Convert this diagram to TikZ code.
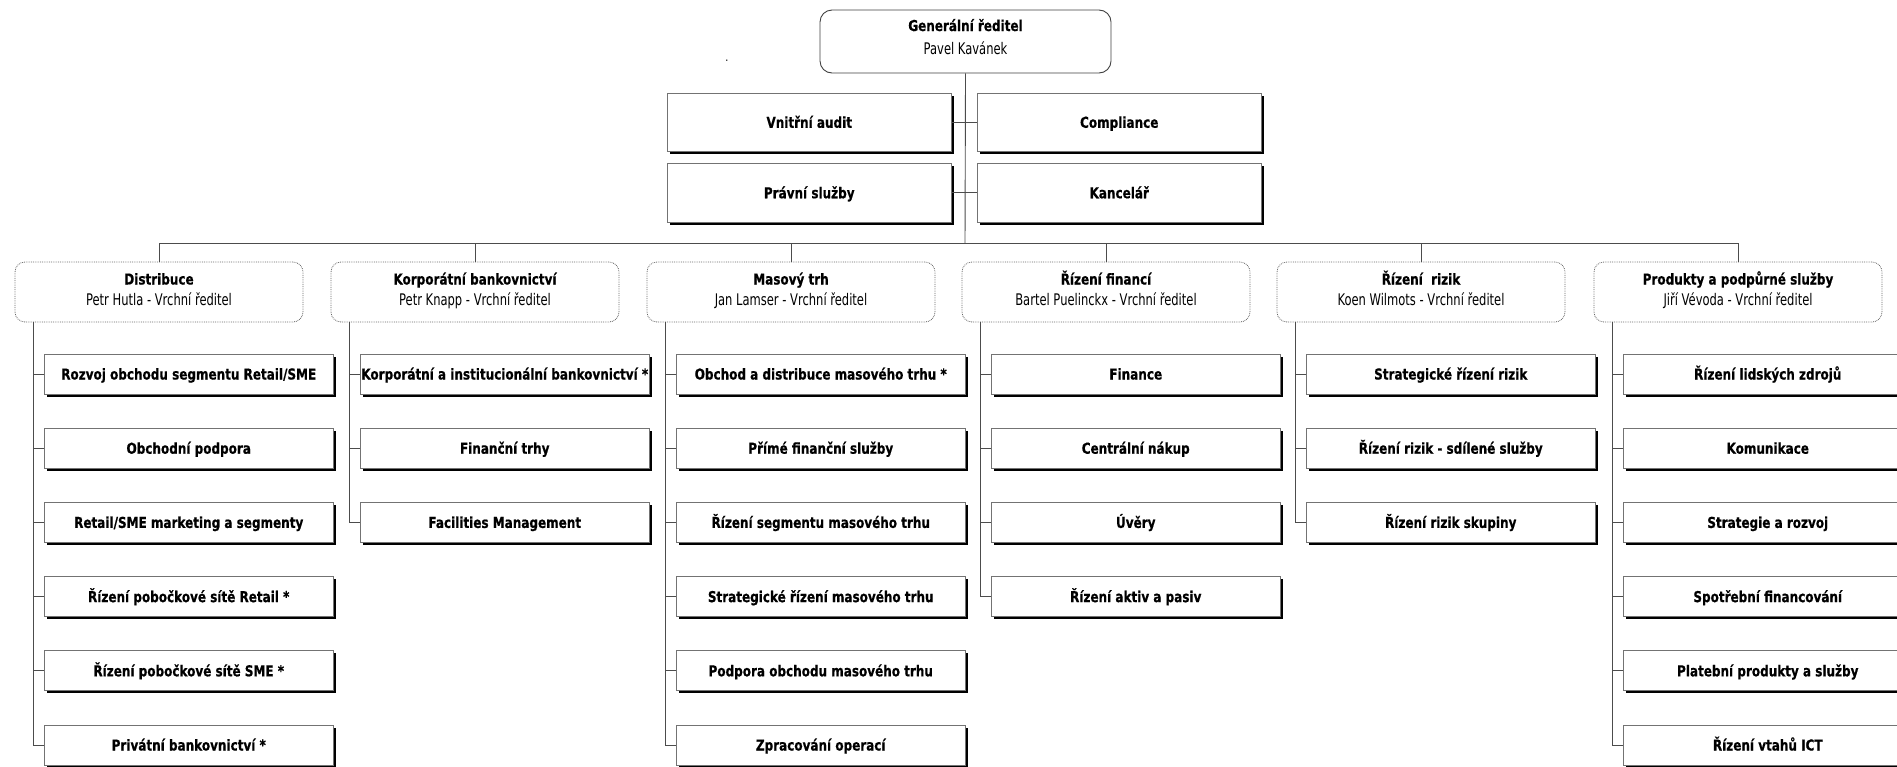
\documentclass[tikz,border=0pt]{standalone}
\usepackage{fontspec}
\newfontfamily\tb[FakeStretch=0.80,BoldFeatures={FakeBold=0.6}]{DejaVu Sans}
\newfontfamily\tr[FakeStretch=0.72]{DejaVu Sans}
\newcommand\topstrut{\rule{0pt}{15pt}}
\newcommand\divdepth{\rule[-9pt]{0pt}{9pt}}
\newcommand\ceodepth{\rule[-12.5pt]{0pt}{12.5pt}}
\begin{document}
\begin{tikzpicture}[x=1pt,y=-1pt,
  conn/.style={draw=black!70, line width=0.9pt},
  ceobox/.style={draw=black!75, line width=0.9pt, rounded corners=12pt, fill=white,
    minimum width=291pt, minimum height=63pt, inner sep=0pt, align=center,
    font=\fontsize{15}{23.5}\selectfont},
  shadowed/.style={draw=black!55, line width=0.8pt, fill=white, inner sep=0pt,
    text height=12pt, text depth=1pt,
    preaction={fill=black, transform canvas={xshift=2.5pt, yshift=-2.5pt}}},
  staffbox/.style={shadowed, minimum width=284.5pt, minimum height=58.5pt,
    font=\tb\bfseries\fontsize{15}{18}\selectfont},
  unitbox/.style={shadowed, minimum width=289.5pt, minimum height=40pt,
    font=\tb\bfseries\fontsize{15}{18}\selectfont},
  divbox/.style={draw=black!60, line width=0.8pt, densely dotted, rounded corners=10pt,
    fill=white, minimum width=288pt, minimum height=60pt, inner sep=0pt, align=center,
    font=\fontsize{15}{21}\selectfont},
]
\useasboundingbox (0,0) rectangle (1897,766);
\clip (0,0) rectangle (1897,766);

% top
\node[ceobox] (ceo) at (965.5,41.5) {\topstrut{\tb\bfseries Generální ředitel}\\{\tr\fontsize{16}{23.5}\selectfont Pavel Kavánek}\ceodepth};
\node[inner sep=0pt, font=\tb\fontsize{12}{12}\selectfont] (dot) at (727,61) {.};
\coordinate (bus) at (965,243);

% staff
\node[staffbox] (audit) at (809.25,122.25) {Vnitřní audit};
\node[staffbox] (compliance) at (1119.25,122.25) {Compliance};
\node[staffbox] (pravni) at (809.25,192.75) {Právní služby};
\node[staffbox] (kancelar) at (1119.25,192.75) {Kancelář};

\draw[conn] (ceo.south) -- (bus);
\draw[conn] (audit.east) -- (compliance.west);
\draw[conn] (pravni.east) -- (kancelar.west);

% divisions
\node[divbox] (d1) at (159,292) {\topstrut{\tb\bfseries Distribuce}\\{\tr\fontsize{16}{21}\selectfont Petr Hutla - Vrchní ředitel}\divdepth};
\node[divbox] (d2) at (475,292) {\topstrut{\tb\bfseries Korporátní bankovnictví}\\{\tr\fontsize{16}{21}\selectfont Petr Knapp - Vrchní ředitel}\divdepth};
\node[divbox] (d3) at (791,292) {\topstrut{\tb\bfseries Masový trh}\\{\tr\fontsize{16}{21}\selectfont Jan Lamser - Vrchní ředitel}\divdepth};
\node[divbox] (d4) at (1106,292) {\topstrut{\tb\bfseries Řízení financí}\\{\tr\fontsize{16}{21}\selectfont Bartel Puelinckx - Vrchní ředitel}\divdepth};
\node[divbox] (d5) at (1421,292) {\topstrut{\tb\bfseries Řízení\ \ rizik}\\{\tr\fontsize{16}{21}\selectfont Koen Wilmots - Vrchní ředitel}\divdepth};
\node[divbox] (d6) at (1738,292) {\topstrut{\tb\bfseries Produkty a podpůrné služby}\\{\tr\fontsize{16}{21}\selectfont Jiří Vévoda - Vrchní ředitel}\divdepth};

\draw[conn] (d1.north) -- (d1.north |- bus) -- (d6.north |- bus) -- (d6.north);
\draw[conn] (d2.north) -- (d2.north |- bus);
\draw[conn] (d3.north) -- (d3.north |- bus);
\draw[conn] (d4.north) -- (d4.north |- bus);
\draw[conn] (d5.north) -- (d5.north |- bus);

% column 1
\node[unitbox] (u1a) at (188.75,374) {Rozvoj obchodu segmentu Retail/SME};
\node[unitbox] (u1b) at (188.75,448.2) {Obchodní podpora};
\node[unitbox] (u1c) at (188.75,522.4) {Retail/SME marketing a segmenty};
\node[unitbox] (u1d) at (188.75,596.6) {Řízení pobočkové sítě Retail *};
\node[unitbox] (u1e) at (188.75,670.8) {Řízení pobočkové sítě SME *};
\node[unitbox] (u1f) at (188.75,745) {Privátní bankovnictví *};
\coordinate (v1) at (33,322);
\draw[conn] (v1) |- (u1f.west);
\foreach \u in {u1a,u1b,u1c,u1d,u1e} \draw[conn] (v1 |- \u.west) -- (\u.west);

% column 2
\node[unitbox] (u2a) at (504.75,374) {Korporátní a institucionální bankovnictví *};
\node[unitbox] (u2b) at (504.75,448.2) {Finanční trhy};
\node[unitbox] (u2c) at (504.75,522.4) {Facilities Management};
\coordinate (v2) at (349,322);
\draw[conn] (v2) |- (u2c.west);
\foreach \u in {u2a,u2b} \draw[conn] (v2 |- \u.west) -- (\u.west);

% column 3
\node[unitbox] (u3a) at (820.75,374) {Obchod a distribuce masového trhu *};
\node[unitbox] (u3b) at (820.75,448.2) {Přímé finanční služby};
\node[unitbox] (u3c) at (820.75,522.4) {Řízení segmentu masového trhu};
\node[unitbox] (u3d) at (820.75,596.6) {Strategické řízení masového trhu};
\node[unitbox] (u3e) at (820.75,670.8) {Podpora obchodu masového trhu};
\node[unitbox] (u3f) at (820.75,745) {Zpracování operací};
\coordinate (v3) at (665,322);
\draw[conn] (v3) |- (u3f.west);
\foreach \u in {u3a,u3b,u3c,u3d,u3e} \draw[conn] (v3 |- \u.west) -- (\u.west);

% column 4
\node[unitbox] (u4a) at (1135.75,374) {Finance};
\node[unitbox] (u4b) at (1135.75,448.2) {Centrální nákup};
\node[unitbox] (u4c) at (1135.75,522.4) {Úvěry};
\node[unitbox] (u4d) at (1135.75,596.6) {Řízení aktiv a pasiv};
\coordinate (v4) at (980,322);
\draw[conn] (v4) |- (u4d.west);
\foreach \u in {u4a,u4b,u4c} \draw[conn] (v4 |- \u.west) -- (\u.west);

% column 5
\node[unitbox] (u5a) at (1450.75,374) {Strategické řízení rizik};
\node[unitbox] (u5b) at (1450.75,448.2) {Řízení rizik - sdílené služby};
\node[unitbox] (u5c) at (1450.75,522.4) {Řízení rizik skupiny};
\coordinate (v5) at (1295,322);
\draw[conn] (v5) |- (u5c.west);
\foreach \u in {u5a,u5b} \draw[conn] (v5 |- \u.west) -- (\u.west);

% column 6
\node[unitbox] (u6a) at (1767.75,374) {Řízení lidských zdrojů};
\node[unitbox] (u6b) at (1767.75,448.2) {Komunikace};
\node[unitbox] (u6c) at (1767.75,522.4) {Strategie a rozvoj};
\node[unitbox] (u6d) at (1767.75,596.6) {Spotřební financování};
\node[unitbox] (u6e) at (1767.75,670.8) {Platební produkty a služby};
\node[unitbox] (u6f) at (1767.75,745) {Řízení vtahů ICT};
\coordinate (v6) at (1612,322);
\draw[conn] (v6) |- (u6f.west);
\foreach \u in {u6a,u6b,u6c,u6d,u6e} \draw[conn] (v6 |- \u.west) -- (\u.west);
\end{tikzpicture}
\end{document}
